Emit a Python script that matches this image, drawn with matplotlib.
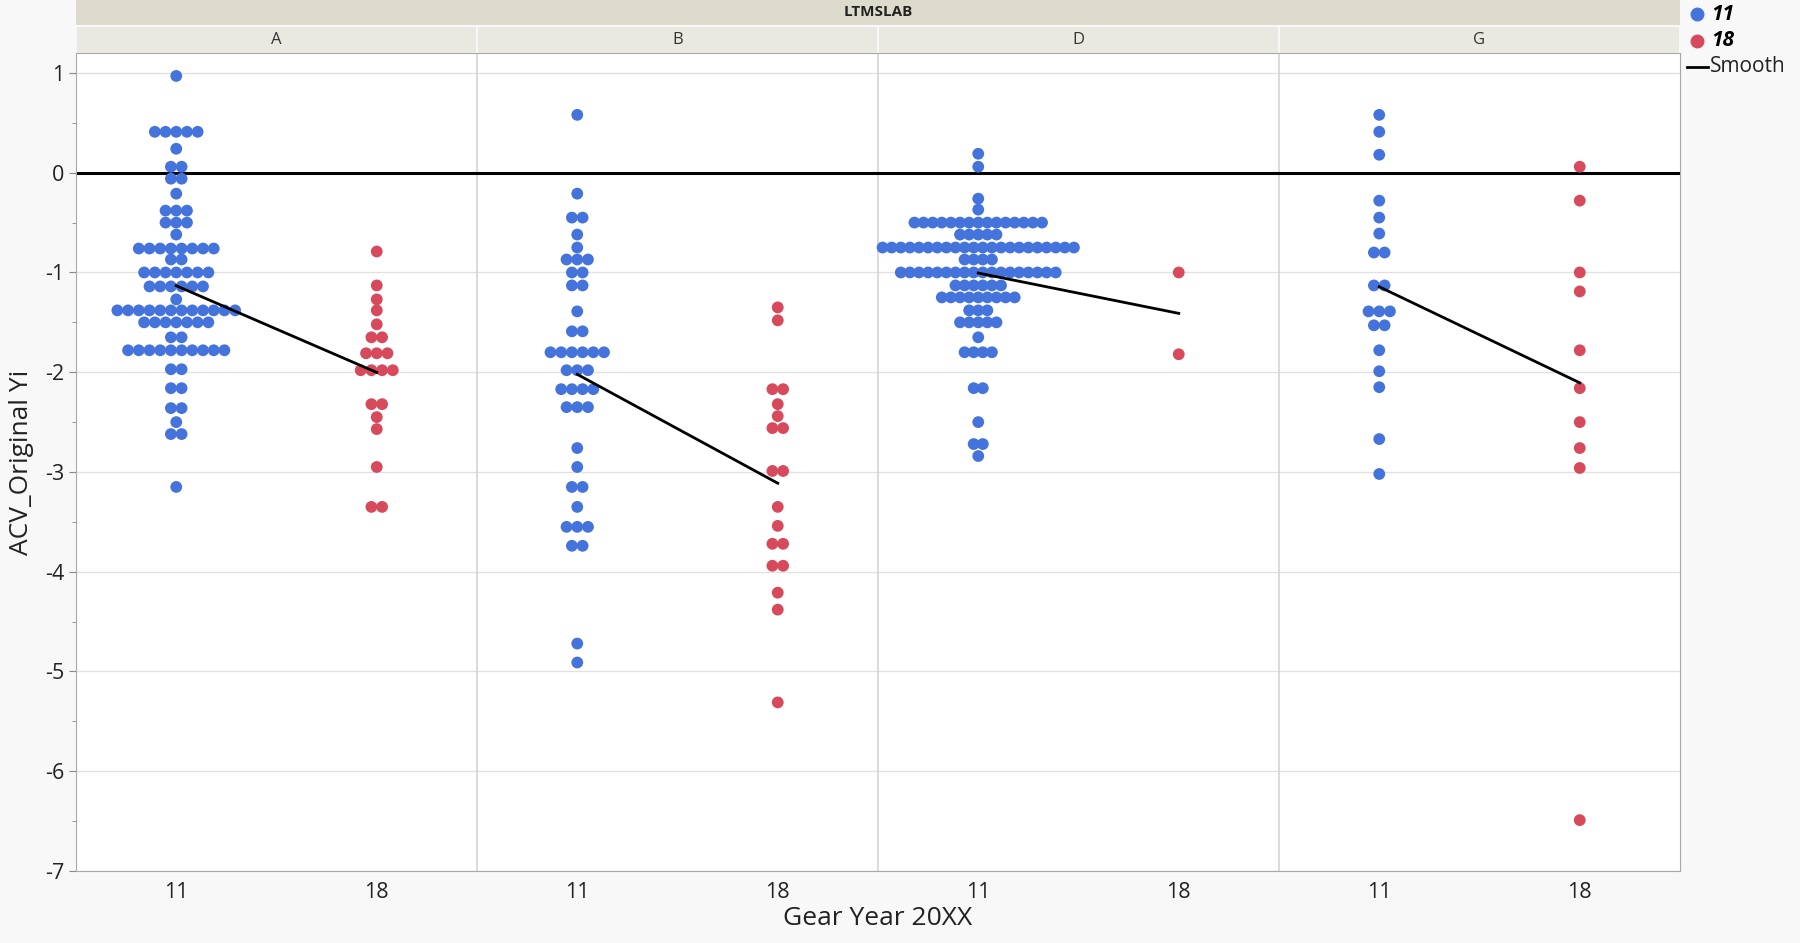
import numpy as np
import matplotlib.pyplot as plt
from matplotlib.lines import Line2D
from matplotlib.patches import Rectangle

plt.rcParams['font.family'] = ['Open Sans', 'DejaVu Sans']
plt.rcParams['axes.unicode_minus'] = False

panels = ['A', 'B', 'D', 'G']
years = ['11', '18']
blue = '#4473dc'
red = '#d64a5b'

# values of each dot row and how many dots share that row
a11_vals = [0.97, 0.41, 0.24, 0.06, -0.06, -0.21, -0.38, -0.50, -0.62, -0.76, -0.87, -1.00,
            -1.14, -1.27, -1.38, -1.50, -1.65, -1.78, -1.97, -2.16, -2.36, -2.50, -2.62, -3.15]
a11_n = [1, 5, 1, 2, 2, 1, 3, 3, 1, 8, 2, 7, 6, 1, 12, 7, 2, 10, 2, 2, 2, 1, 2, 1]
a18_vals = [-0.79, -1.13, -1.27, -1.38, -1.52, -1.65, -1.81, -1.98, -2.32, -2.45, -2.57, -2.95, -3.35]
a18_n = [1, 1, 1, 1, 1, 2, 3, 4, 2, 1, 1, 1, 2]
b11_vals = [0.58, -0.21, -0.45, -0.62, -0.75, -0.87, -1.00, -1.13, -1.39, -1.59, -1.80, -1.98,
            -2.17, -2.35, -2.76, -2.95, -3.15, -3.35, -3.55, -3.74, -4.72, -4.91]
b11_n = [1, 1, 2, 1, 1, 3, 2, 2, 1, 2, 6, 3, 4, 3, 1, 1, 2, 1, 3, 2, 1, 1]
b18_vals = [-1.35, -1.48, -2.17, -2.32, -2.44, -2.56, -2.99, -3.35, -3.54, -3.72, -3.94, -4.21, -4.38, -5.31]
b18_n = [1, 1, 2, 1, 1, 2, 2, 1, 1, 2, 2, 1, 1, 1]
d11_vals = [0.19, 0.06, -0.26, -0.37, -0.50, -0.62, -0.75, -0.87, -1.00, -1.13, -1.25, -1.38,
            -1.50, -1.65, -1.80, -2.16, -2.50, -2.72, -2.84]
d11_n = [1, 1, 1, 1, 15, 5, 22, 4, 18, 6, 9, 3, 5, 1, 4, 2, 1, 2, 1]
d18_vals = [-1.00, -1.82]
d18_n = [1, 1]
g11_vals = [0.58, 0.41, 0.18, -0.28, -0.45, -0.61, -0.80, -1.13, -1.39, -1.53, -1.78, -1.99,
            -2.15, -2.67, -3.02]
g11_n = [1, 1, 1, 1, 1, 1, 2, 2, 3, 2, 1, 1, 1, 1, 1]
g18_vals = [0.06, -0.28, -1.00, -1.19, -1.78, -2.16, -2.50, -2.76, -2.96, -6.49]
g18_n = [1, 1, 1, 1, 1, 1, 1, 1, 1, 1]

groups = [(a11_vals, a11_n), (a18_vals, a18_n), (b11_vals, b11_n), (b18_vals, b18_n),
          (d11_vals, d11_n), (d18_vals, d18_n), (g11_vals, g11_n), (g18_vals, g18_n)]


def swarm(vals, counts, center):
    step = min(0.0534, 1.0 / max(counts))
    xs, ys = [], []
    for v, n in zip(vals, counts):
        off = (np.arange(n) - (n - 1) / 2) * step
        xs.extend(center + off)
        ys.extend([v] * n)
    return xs, ys


fig = plt.figure(figsize=(18, 9.43), dpi=100, facecolor='#f8f8f8')
L, R, B, T = 76 / 1800, 1680 / 1800, 1 - 871 / 943, 1 - 53 / 943
ax = fig.add_axes([L, B, R - L, T - B], facecolor='white')

means = []
for i, (vals, n) in enumerate(groups):
    xs, ys = swarm(vals, n, i)
    ax.scatter(xs, ys, s=72, color=blue if i % 2 == 0 else red, edgecolors='none', zorder=3)
    means.append(np.repeat(vals, n).mean())

for p in range(4):
    ax.plot([2 * p, 2 * p + 1], [means[2 * p], means[2 * p + 1]], color='black', lw=2, zorder=4)

ax.axhline(0, color='black', lw=2.2, zorder=2)
for y in range(-7, 2):
    if y != 0:
        ax.axhline(y, color='#e1e1e1', lw=1, zorder=1)
for xb in [1.5, 3.5, 5.5]:
    ax.axvline(xb, color='#d4d4d4', lw=1.2, zorder=1)

ax.set_xlim(-0.5, 7.5)
ax.set_ylim(-7, 1.2)
ax.set_yticks(range(-7, 2))
ax.set_yticks(np.arange(-6.5, 1.2, 1.0), minor=True)
ax.set_xticks(range(8))
ax.set_xticklabels(years * 4)
ax.tick_params(axis='y', labelsize=15.5, colors='#222222', length=5, color='#888888')
ax.tick_params(axis='y', which='minor', length=3, color='#888888')
ax.tick_params(axis='x', labelsize=15.5, colors='#222222', length=0, pad=8)
for s in ax.spines.values():
    s.set_color('#a8a8a8')
ax.set_xlabel('Gear Year 20XX', fontsize=19, color='#222222', labelpad=2)
ax.set_ylabel('ACV_Original Yi', fontsize=19, color='#222222', va='center')
ax.yaxis.set_label_coords(-0.034, 0.5)

# group header strips
fig.add_artist(Rectangle((L, 1 - 25 / 943), R - L, 25 / 943, transform=fig.transFigure,
                         facecolor='#dcdbcc', edgecolor='none'))
fig.text((L + R) / 2, 1 - 12.5 / 943, 'LTMSLAB', ha='center', va='center', fontsize=11,
         fontweight='bold', color='#222222')
pw = (R - L) / 4
for p, name in enumerate(panels):
    fig.add_artist(Rectangle((L + p * pw + 1 / 1800, T), pw - 2 / 1800, 26 / 943,
                             transform=fig.transFigure, facecolor='#e9e9e1', edgecolor='none'))
    fig.text(L + (p + 0.5) * pw, T + 13 / 943, name, ha='center', va='center', fontsize=12,
             color='#333333')

# legend
lx = 1697 / 1800
for k, (lab, c) in enumerate(zip(years, [blue, red])):
    yy = 1 - (14 + 26.5 * k) / 943
    fig.add_artist(Line2D([lx], [yy], marker='o', ms=9, color=c, ls='', transform=fig.transFigure))
    fig.text(lx + 14 / 1800, yy, lab, ha='left', va='center', fontsize=15, fontweight='bold',
             fontstyle='italic', color='black')
yy = 1 - 67 / 943
fig.add_artist(Line2D([1687 / 1800, 1708 / 1800], [yy, yy], color='black', lw=2,
                      transform=fig.transFigure))
fig.text(1710 / 1800, yy, 'Smooth', ha='left', va='center', fontsize=15, color='#222222')

fig.savefig('out.png', dpi=100, facecolor=fig.get_facecolor())
